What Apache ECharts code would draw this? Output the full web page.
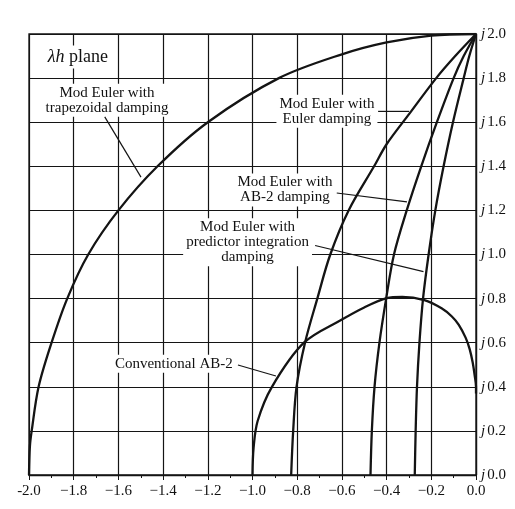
<!DOCTYPE html>
<html>
<head>
<meta charset="utf-8">
<title>λh plane</title>
<script src="https://cdn.jsdelivr.net/npm/echarts@6/dist/echarts.min.js"></script>
<style>
    html, body { margin: 0; padding: 0; background: #fff; }
    #chart { width: 515px; height: 509px; }
</style>
</head>
<body>
<div id="chart"></div>
<script>
// tick labels
var xTickLabels = ['-2.0', '\u22121.8', '\u22121.6', '\u22121.4', '\u22121.2', '\u22121.0',
    '\u22120.8', '\u22120.6', '\u22120.4', '\u22120.2', '0.0'];
var yTickLabels = ['0.0', '0.2', '0.4', '0.6', '0.8', '1.0', '1.2', '1.4', '1.6', '1.8', '2.0'];

var trapezoidal = [[-2.0, 0], [-1.996, 0.13], [-1.988, 0.2], [-1.957, 0.4], [-1.899, 0.6],
    [-1.829, 0.8], [-1.735, 1.0], [-1.6, 1.2], [-1.425, 1.4], [-1.2, 1.6], [-0.882, 1.8],
    [-0.6, 1.908], [-0.4, 1.962], [-0.2, 1.993], [0, 2.0]];
var eulerDamping = [[-0.827, 0], [-0.818, 0.2], [-0.803, 0.4], [-0.765, 0.6], [-0.71, 0.8],
    [-0.652, 1.0], [-0.57, 1.2], [-0.456, 1.4], [-0.4, 1.5], [-0.297, 1.64], [-0.178, 1.8],
    [-0.093, 1.9], [0, 2.0]];
var ab2Damping = [[-0.472, 0], [-0.466, 0.2], [-0.454, 0.4], [-0.432, 0.6], [-0.402, 0.8],
    [-0.367, 1.0], [-0.31, 1.2], [-0.245, 1.4], [-0.175, 1.6], [-0.1, 1.8], [-0.055, 1.9],
    [0, 2.0]];
var predictorDamping = [[-0.274, 0], [-0.27, 0.2], [-0.264, 0.4], [-0.253, 0.6], [-0.237, 0.8],
    [-0.212, 1.0], [-0.182, 1.2], [-0.145, 1.4], [-0.103, 1.6], [-0.055, 1.8], [-0.03, 1.9],
    [0, 2.0]];
var conventionalAB2 = [[-1.0, 0], [-0.995, 0.125], [-0.977, 0.245], [-0.913, 0.4], [-0.77, 0.6],
    [-0.6, 0.705], [-0.5, 0.76], [-0.4, 0.802], [-0.33, 0.808], [-0.231, 0.793],
    [-0.154, 0.756], [-0.108, 0.719], [-0.077, 0.681], [-0.046, 0.622], [-0.028, 0.57],
    [-0.015, 0.511], [-0.006, 0.452], [0, 0.4], [0, 0.37]];

var FONT = 'Liberation Serif';
var INK = '#141414';

var chart = echarts.init(document.getElementById('chart'), null, {renderer: 'canvas'});

function curve(name, data) {
    return {
        name: name,
        type: 'line',
        data: data,
        showSymbol: false,
        smooth: 0.33, // close to a Catmull-Rom pass through the read points
        lineStyle: {color: INK, width: 2.3},
        z: 3
    };
}

chart.setOption({
    animation: false,
    backgroundColor: '#fff',
    grid: {
        left: 29, right: 39, top: 34, bottom: 34,
        show: true,
        borderColor: INK,
        borderWidth: 1.3
    },
    xAxis: {
        type: 'value',
        min: -2, max: 0, interval: 0.2,
        axisLine: {show: true, lineStyle: {color: INK, width: 1.3}},
        axisTick: {show: true, length: 5, lineStyle: {color: INK, width: 1}},
        minorTick: {show: true, splitNumber: 2, length: 3, lineStyle: {color: INK, width: 1}},
        splitLine: {show: true, lineStyle: {color: INK, width: 1.2}},
        axisLabel: {
            margin: 9,
            color: '#111',
            fontFamily: FONT,
            fontSize: 15,
            formatter: function (v) {
                return xTickLabels[Math.round((v + 2) / 0.2)];
            }
        }
    },
    yAxis: {
        type: 'value',
        position: 'right',
        min: 0, max: 2, interval: 0.2,
        axisLine: {show: true, lineStyle: {color: INK, width: 1.3}},
        axisTick: {show: false},
        splitLine: {show: true, lineStyle: {color: INK, width: 1.2}},
        axisLabel: {
            margin: 5,
            color: '#111',
            fontFamily: FONT,
            fontSize: 15,
            formatter: function (v) {
                return '{j|j}{n|' + yTickLabels[Math.round(v / 0.2)] + '}';
            },
            rich: {
                j: {fontStyle: 'italic', fontFamily: FONT, fontSize: 15, color: '#111', padding: [0, 2, 0, 0]},
                n: {fontFamily: FONT, fontSize: 15, color: '#111'}
            }
        }
    },
    series: [
        curve('Mod Euler with trapezoidal damping', trapezoidal),
        curve('Mod Euler with Euler damping', eulerDamping),
        curve('Mod Euler with AB-2 damping', ab2Damping),
        curve('Mod Euler with predictor integration damping', predictorDamping),
        curve('Conventional AB-2', conventionalAB2)
    ]
});

// labels and leader lines, placed in data coordinates
function px(p) {
    return chart.convertToPixel({gridIndex: 0}, p);
}
function label(text, at, align) {
    var p = px(at);
    return {
        type: 'text', x: p[0], y: p[1], z: 20,
        style: {
            text: text,
            fontFamily: FONT, fontSize: 15, lineHeight: 15,
            fill: '#111',
            align: align || 'center',
            verticalAlign: 'middle',
            backgroundColor: '#fff',
            padding: [2, 3, 1, 3]
        }
    };
}
function leader(a, b) {
    var p = px(a), q = px(b);
    return {
        type: 'line', z: 21,
        shape: {x1: p[0], y1: p[1], x2: q[0], y2: q[1]},
        style: {stroke: INK, lineWidth: 1.2}
    };
}

var plane = px([-1.93, 1.896]);
chart.setOption({
    graphic: [
        {
            type: 'text', x: plane[0], y: plane[1], z: 20,
            style: {
                text: '{i|\u03bbh} plane',
                fontFamily: FONT, fontSize: 18,
                fill: '#111',
                align: 'left', verticalAlign: 'middle',
                backgroundColor: '#fff',
                padding: [3, 3, 2, 3],
                rich: {i: {fontStyle: 'italic', fontFamily: FONT, fontSize: 18, fill: '#111'}}
            }
        },
        label('Mod Euler with\ntrapezoidal damping', [-1.651, 1.7]),
        leader([-1.661, 1.624], [-1.499, 1.351]),
        label('Mod Euler with\nEuler damping', [-0.667, 1.65]),
        leader([-0.438, 1.649], [-0.299, 1.649]),
        label('Mod Euler with\nAB-2 damping', [-0.855, 1.293]),
        leader([-0.623, 1.279], [-0.309, 1.239]),
        label('Mod Euler with\npredictor integration\ndamping', [-1.022, 1.056]),
        leader([-0.72, 1.041], [-0.235, 0.922]),
        label('Conventional AB-2', [-1.352, 0.505]),
        leader([-1.065, 0.499], [-0.895, 0.449])
    ]
});
</script>
</body>
</html>
